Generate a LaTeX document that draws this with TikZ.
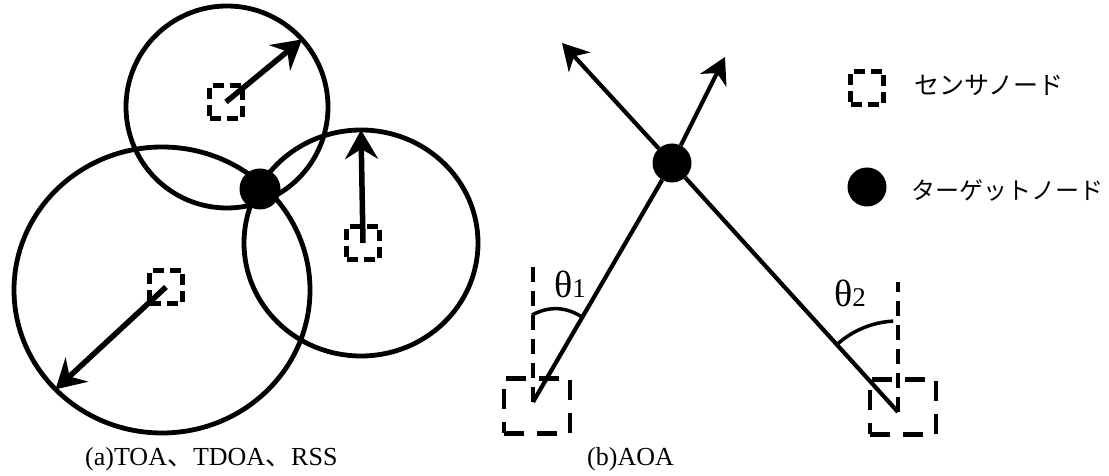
\documentclass[tikz,border=0pt]{standalone}
\usepackage{fontspec}
\setmainfont{Liberation Serif}
\newfontfamily\cjk{Noto Sans CJK JP}
\usetikzlibrary{arrows.meta,calc}

\tikzset{
    ring/.style={line width=4.8pt},
    sensor/.style={draw, line width=4.5pt, dash pattern=on 11pt off 6pt,
        minimum size=33pt, inner sep=0pt},
    bigsensor/.style={draw, line width=4.2pt, dash pattern=on 20pt off 13pt,
        minimum width=66pt, minimum height=55pt, inner sep=0pt},
    targetdot/.style={circle, fill, inner sep=0pt, minimum size=41pt},
    rangearrow/.style={line width=5.5pt, -{Stealth[length=29pt,width=33pt,inset=10pt]}},
    bearing/.style={line width=4.2pt, -{Stealth[length=26pt,width=29pt,inset=8pt]}},
    vertline/.style={line width=3.6pt, dash pattern=on 15pt off 9pt},
    txt/.style={inner sep=0pt},
}

\begin{document}
\begin{tikzpicture}[x=1pt,y=1pt,font=\fontsize{26}{30}\selectfont]
        \useasboundingbox (0,0) rectangle (1109,476);
        %% (a) range circles
        \coordinate (cT) at (227,369);
        \coordinate (cL) at (162,186);
        \coordinate (cR) at (361,233);
        \draw[ring] (cT) circle [radius=101];
        \draw[ring] (cL) circle [x radius=148, y radius=143];
        \draw[ring] (cR) circle [x radius=117, y radius=113];
        \node[targetdot] (tgtA) at (260,287) {};
        %% Sensors with their ranges
        \node[sensor] (sT) at (226,374) {};
        \node[sensor] (sL) at (166,189) {};
        \node[sensor] (sR) at (363,233) {};
        \coordinate (rT) at ($(cT)+(42:101)$);
        \coordinate (rL) at ($(cL)+(224:148 and 143)$);
        \coordinate (rR) at ($(cR)+(0,113)$);
            \draw[rangearrow] (sT.center) -- (rT);
            \draw[rangearrow] (sL.center) -- (rL);
            \draw[rangearrow] (sR.center) -- (rR);
        \node[txt, anchor=base west] (capA) at (85,10) {(a)TOA{\cjk 、}TDOA{\cjk 、}RSS};

        %% (b) bearings
        \node[targetdot, minimum size=39pt] (tgtB) at (672,313) {};
        \coordinate (p1) at (533,74);
        \coordinate (p2) at (898,64);
        \node[bigsensor] (s1) at (537,70) {};
        \node[bigsensor] (s2) at (903,69) {};
        \coordinate (v1) at (533,211);
        \coordinate (v2) at (898,194);
        \coordinate (hA) at (725,419);
        \coordinate (hB) at (562,433);
            \draw[vertline] (p1) -- (v1);
            \draw[vertline] (p2) -- (v2);
            \draw[line width=4.2pt] (p1) -- (tgtB);
            \draw[line width=4.2pt] (p2) -- (tgtB);
            \draw[bearing] (tgtB) -- (hA);
            \draw[bearing] (tgtB) -- (hB);
        %% Angles
        \draw[line width=3.5pt] (532,161) to[bend left=30] (582,159);
        \draw[line width=3.5pt] ($(p2)+(132:91)$) arc [start angle=132, end angle=93, radius=91];
        \node[txt, anchor=base west] (th1) at (554,178)
            {\fontsize{38}{40}\selectfont θ\fontsize{27}{30}\selectfont 1};
        \node[txt, anchor=base west] (th2) at (834,169)
            {\fontsize{38}{40}\selectfont θ\fontsize{27}{30}\selectfont 2};
        \node[txt, anchor=base west] (capB) at (587,10) {(b)AOA};

        %% Legend
        \node[sensor, minimum size=33pt] (lgS) at (867,388) {};
        \node[targetdot, minimum size=39pt] (lgT) at (867,289) {};
        \node[txt, anchor=west] (lgSt) at (914,391) {\fontsize{25}{30}\selectfont\cjk センサノード};
        \node[txt, anchor=west] (lgTt) at (911,286) {\fontsize{24}{30}\selectfont\cjk ターゲットノード};
    \end{tikzpicture}
\end{document}
